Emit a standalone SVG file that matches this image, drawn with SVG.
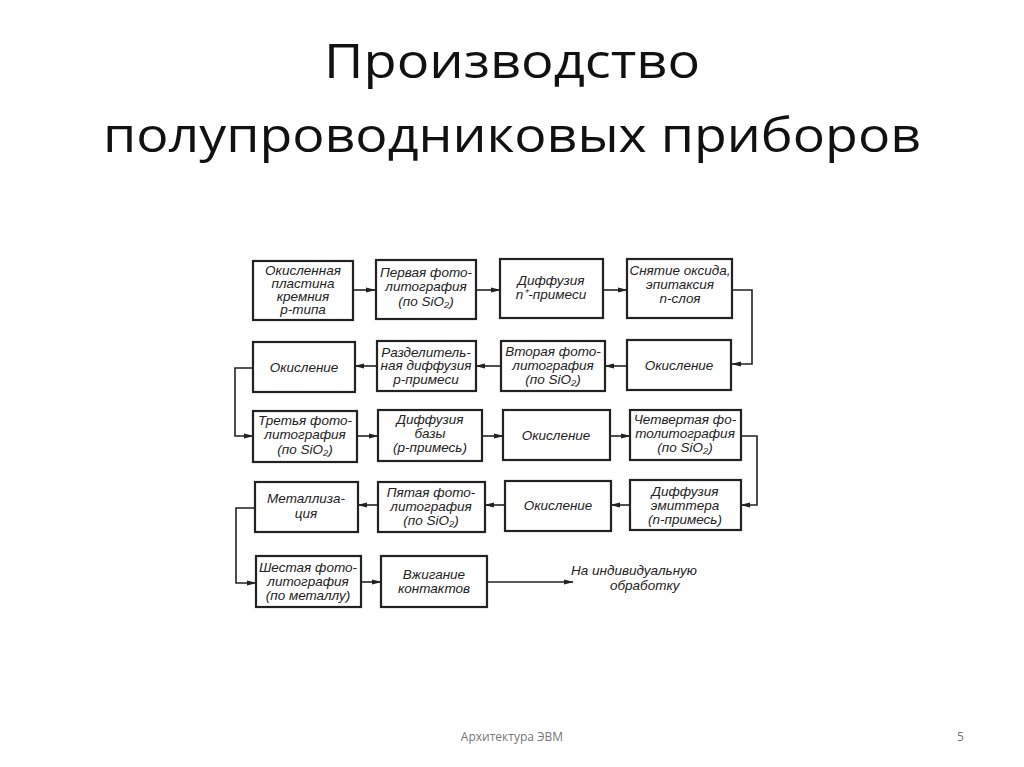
<svg xmlns="http://www.w3.org/2000/svg" width="1024" height="767" viewBox="0 0 1024 767">
<style>
.b{fill:#fff;stroke:#222;stroke-width:2.2}
.t{font-family:"Liberation Sans",Arial,sans-serif;font-style:italic;font-size:13.5px;fill:#222;text-anchor:middle}
.c{fill:none;stroke:#222;stroke-width:1.6}
.h{font-family:"Open Sans","Liberation Sans",sans-serif;font-size:48px;fill:#111;text-anchor:middle}
.f{font-family:"Open Sans","Liberation Sans",sans-serif;font-size:12px;fill:#777}
</style>
<defs><marker id="a" markerWidth="10" markerHeight="6" refX="9" refY="3" orient="auto" markerUnits="userSpaceOnUse"><path d="M0,0.5L10,3L0,5.5z" fill="#222"/></marker></defs>
<rect width="1024" height="767" fill="#fff"/>
<text class="h" x="512" y="78" textLength="376" lengthAdjust="spacingAndGlyphs">Производство</text>
<text class="h" x="512" y="152" textLength="818" lengthAdjust="spacingAndGlyphs">полупроводниковых приборов</text>
<g id="connectors" class="c">
<path d="M353 290H375" marker-end="url(#a)"/>
<path d="M476 290H500" marker-end="url(#a)"/>
<path d="M603 290H627" marker-end="url(#a)"/>
<path d="M732 290H752V364H732" marker-end="url(#a)"/>
<path d="M627 366H605" marker-end="url(#a)"/>
<path d="M501 366H476" marker-end="url(#a)"/>
<path d="M377 366H355" marker-end="url(#a)"/>
<path d="M253 368H235V436H253" marker-end="url(#a)"/>
<path d="M357 436H378" marker-end="url(#a)"/>
<path d="M482 436H503" marker-end="url(#a)"/>
<path d="M610 436H630" marker-end="url(#a)"/>
<path d="M741 436H757V505H741" marker-end="url(#a)"/>
<path d="M630 505H611" marker-end="url(#a)"/>
<path d="M505 505H485" marker-end="url(#a)"/>
<path d="M378 505H358" marker-end="url(#a)"/>
<path d="M255 508H236V583H256" marker-end="url(#a)"/>
<path d="M361 582H381" marker-end="url(#a)"/>
<path d="M487 582H573" marker-end="url(#a)"/>
</g>
<g id="n1"><rect class="b" x="253" y="261" width="100" height="59"/><text class="t" x="303" y="275">Окисленная</text><text class="t" x="303" y="288">пластина</text><text class="t" x="303" y="301">кремния</text><text class="t" x="303" y="314">p-типа</text></g>
<g id="n2"><rect class="b" x="376" y="260" width="100" height="59"/><text class="t" x="426" y="277">Первая фото-</text><text class="t" x="426" y="291">литография</text><text class="t" x="426" y="306">(по SiO₂)</text></g>
<g id="n3"><rect class="b" x="500" y="259" width="103" height="59"/><text class="t" x="551" y="285">Диффузия</text><text class="t" x="551" y="299">n⁺-примеси</text></g>
<g id="n4"><rect class="b" x="627" y="259" width="105" height="59"/><text class="t" x="680" y="275">Снятие оксида,</text><text class="t" x="680" y="289">эпитаксия</text><text class="t" x="680" y="303">n-слоя</text></g>
<g id="n5"><rect class="b" x="253" y="342" width="102" height="50"/><text class="t" x="304" y="372">Окисление</text></g>
<g id="n6"><rect class="b" x="377" y="341" width="99" height="50"/><text class="t" x="426" y="357">Разделитель-</text><text class="t" x="426" y="370">ная диффузия</text><text class="t" x="426" y="384">p-примеси</text></g>
<g id="n7"><rect class="b" x="501" y="341" width="104" height="50"/><text class="t" x="553" y="356">Вторая фото-</text><text class="t" x="553" y="370">литография</text><text class="t" x="553" y="384">(по SiO₂)</text></g>
<g id="n8"><rect class="b" x="627" y="340" width="104" height="50"/><text class="t" x="679" y="370">Окисление</text></g>
<g id="n9"><rect class="b" x="253" y="411" width="104" height="51"/><text class="t" x="305" y="425">Третья фото-</text><text class="t" x="305" y="439">литография</text><text class="t" x="305" y="454">(по SiO₂)</text></g>
<g id="n10"><rect class="b" x="378" y="410" width="104" height="51"/><text class="t" x="430" y="424">Диффузия</text><text class="t" x="430" y="438">базы</text><text class="t" x="430" y="452">(p-примесь)</text></g>
<g id="n11"><rect class="b" x="503" y="410" width="107" height="50"/><text class="t" x="556" y="440">Окисление</text></g>
<g id="n12"><rect class="b" x="630" y="410" width="111" height="50"/><text class="t" x="685" y="424">Четвертая фо-</text><text class="t" x="685" y="438">толитография</text><text class="t" x="685" y="452">(по SiO₂)</text></g>
<g id="n13"><rect class="b" x="255" y="482" width="103" height="50"/><text class="t" x="306" y="503">Металлиза-</text><text class="t" x="306" y="518">ция</text></g>
<g id="n14"><rect class="b" x="378" y="482" width="107" height="50"/><text class="t" x="431" y="497">Пятая фото-</text><text class="t" x="431" y="511">литография</text><text class="t" x="431" y="525">(по SiO₂)</text></g>
<g id="n15"><rect class="b" x="505" y="481" width="106" height="50"/><text class="t" x="558" y="510">Окисление</text></g>
<g id="n16"><rect class="b" x="630" y="480" width="111" height="50"/><text class="t" x="685" y="496">Диффузия</text><text class="t" x="685" y="510">эмиттера</text><text class="t" x="685" y="524">(n-примесь)</text></g>
<g id="n17"><rect class="b" x="256" y="556" width="105" height="51"/><text class="t" x="308" y="572">Шестая фото-</text><text class="t" x="308" y="586">литография</text><text class="t" x="308" y="600">(по металлу)</text></g>
<g id="n18"><rect class="b" x="381" y="556" width="106" height="51"/><text class="t" x="434" y="579">Вжигание</text><text class="t" x="434" y="593">контактов</text></g>
<text class="t" x="634" y="575">На индивидуальную</text>
<text class="t" x="610" y="590" style="text-anchor:start">обработку</text>
<text class="f" x="512" y="741" text-anchor="middle">Архитектура ЭВМ</text>
<text class="f" x="957" y="741">5</text>
</svg>
